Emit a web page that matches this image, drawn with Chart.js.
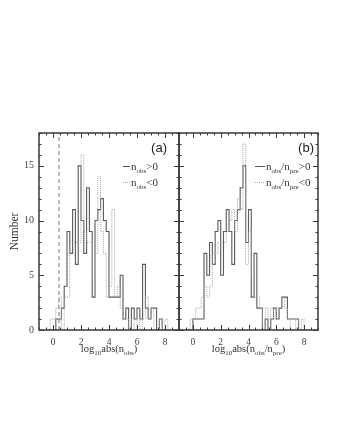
<!DOCTYPE html>
<html><head><meta charset="utf-8">
<script src="https://cdn.jsdelivr.net/npm/chart.js@4"></script>
<style>
html,body{margin:0;padding:0;background:#fff;}
#wrap{position:relative;width:340px;height:440px;}
canvas{position:absolute;left:0;top:0;}
</style>
</head><body>
<div id="wrap"><canvas id="ca" width="340" height="440"></canvas><canvas id="cb" width="340" height="440"></canvas></div>
<script>
// ---- data ----
const binStart = -0.4;   // left edge of first bin
const binWidth = 0.2;
const xTickValues = [0, 2, 4, 6, 8];
const yTickValues = [0, 5, 10, 15];
const thresholdA = 0.43; // dashed vertical line in panel (a)

// panel (a): n_obs > 0 (solid), n_obs < 0 (dotted)
const countsAPos = [0,0,0,1,1,2,4,9,7,11,6,15,10,7,13,9,3,10,11,12,10,9,3,3,3,3,5,1,2,0,2,1,2,1,6,2,1,2,2,0,1,0,0,0];
const countsANeg = [0,1,1,2,3,0,3,3,8,8,8,8,16,9,8,8,5,7,14,9,7,3,4,11,3,4,2,1,1,0,1,0,2,0,1,3,1,2,0,0,1,0,1,0];
// panel (b): n_obs/n_pre > 0 (solid), < 0 (dotted)
const countsBPos = [0,0,1,1,1,1,7,5,8,6,9,10,5,9,11,9,6,10,11,13,15,8,11,3,7,2,2,0,1,0,1,2,1,2,3,3,1,1,1,1,0,0,0,0];
const countsBNeg = [0,1,1,2,2,3,4,3,4,7,7,8,8,8,9,10,11,9,12,11,17,6,9,5,3,3,2,0,2,0,2,1,2,2,3,2,1,0,0,1,0,1,0,0];

const xMin = -1, xMax = 9, yMin = 0, yMax = 18;
const SERIF = '"Liberation Serif", "DejaVu Serif", serif';
const SANS = '"Liberation Sans", Arial, sans-serif';

function histPoints(counts){
  const pts = [{x: binStart, y: 0}];
  counts.forEach((c, i) => {
    const l = binStart + i * binWidth, r = l + binWidth;
    pts.push({x: l, y: c}, {x: r, y: c});
  });
  pts.push({x: binStart + counts.length * binWidth, y: 0});
  return pts;
}

function richWidth(ctx, parts, main, sub){
  let w = 0;
  for (const [t, s] of parts){ ctx.font = (s ? sub : main) + 'px ' + SERIF; w += ctx.measureText(t).width; }
  return w;
}
function drawRich(ctx, parts, x, y, main, sub, color){
  ctx.fillStyle = color; ctx.textBaseline = 'alphabetic'; ctx.textAlign = 'left';
  let cx = x;
  for (const [t, s] of parts){
    ctx.font = (s ? sub : main) + 'px ' + SERIF;
    ctx.fillText(t, cx, s ? y + main * 0.28 : y);
    cx += ctx.measureText(t).width;
  }
}

const framePlugin = {
  id: 'frame',
  afterDatasetsDraw(chart){
    const {ctx, chartArea: a, scales: {x, y}} = chart;
    ctx.save();
    ctx.strokeStyle = '#3a3a3a'; ctx.lineWidth = 1;
    ctx.beginPath();
    for (let v = Math.ceil(x.min * 2) / 2; v <= x.max + 1e-9; v += 0.5){
      const px = Math.round(x.getPixelForValue(v)) + 0.5;
      const L = (Math.abs(v % 2) < 1e-9) ? 5 : 2.5;
      ctx.moveTo(px, a.bottom); ctx.lineTo(px, a.bottom - L);
      ctx.moveTo(px, a.top); ctx.lineTo(px, a.top + L);
    }
    for (let v = y.min; v <= y.max; v += 1){
      const py = Math.round(y.getPixelForValue(v)) + 0.5;
      const L = (v % 5 === 0) ? 5 : 2.5;
      ctx.moveTo(a.left, py); ctx.lineTo(a.left + L, py);
      ctx.moveTo(a.right, py); ctx.lineTo(a.right - L, py);
    }
    ctx.stroke();
    ctx.lineWidth = 1.5;
    ctx.strokeRect(a.left, a.top, a.right - a.left, a.bottom - a.top);
    ctx.restore();
  }
};

const textPlugin = {
  id: 'texts',
  afterDraw(chart, args, o){
    const {ctx, chartArea: a} = chart;
    ctx.save();
    // panel label
    ctx.font = '13px ' + SANS; ctx.fillStyle = '#222'; ctx.textAlign = 'right'; ctx.textBaseline = 'alphabetic';
    ctx.fillText(o.panel, a.right - o.panelInset, a.top + 19);
    // legend
    o.legend.forEach((e, i) => {
      const yy = a.top + 33 + i * 16;
      ctx.beginPath();
      ctx.strokeStyle = e.dotted ? '#aaaaaa' : '#555555';
      ctx.lineWidth = 1;
      ctx.setLineDash(e.dotted ? [1, 1] : []);
      ctx.moveTo(a.right - o.lineStart, yy + 0.5); ctx.lineTo(a.right - o.lineEnd, yy + 0.5);
      ctx.stroke();
      ctx.setLineDash([]);
      drawRich(ctx, e.parts, a.right - o.lineEnd + 1, yy + 3.5, 11, 7, '#333');
    });
    // x title
    const w = richWidth(ctx, o.xTitle, 10.5, 7);
    drawRich(ctx, o.xTitle, (a.left + a.right) / 2 - w / 2, a.bottom + 22, 10.5, 7, '#333');
    // y title
    if (o.yTitle){
      ctx.translate(15, (a.top + a.bottom) / 2);
      ctx.rotate(-Math.PI / 2);
      ctx.font = '11.5px ' + SERIF; ctx.fillStyle = '#333'; ctx.textAlign = 'center'; ctx.textBaseline = 'middle';
      ctx.fillText(o.yTitle, 0, 0);
    }
    ctx.restore();
  }
};

function makeChart(id, pos, neg, opts){
  const datasets = [
    {data: histPoints(neg), borderColor: '#a8a8a8', borderWidth: 1, borderDash: [1, 1], pointRadius: 0, tension: 0, fill: false},
    {data: histPoints(pos), borderColor: '#5a5a5a', borderWidth: 1.1, pointRadius: 0, tension: 0, fill: false}
  ];
  if (opts.threshold !== undefined){
    datasets.push({data: [{x: opts.threshold, y: yMin}, {x: opts.threshold, y: yMax}], borderColor: '#777', borderWidth: 1, borderDash: [4, 3], pointRadius: 0, fill: false});
  }
  return new Chart(document.getElementById(id), {
    type: 'line',
    data: {datasets},
    options: {
      responsive: false, animation: false, devicePixelRatio: 1,
      layout: {padding: opts.padding},
      plugins: {legend: {display: false}, tooltip: {enabled: false}, texts: opts.texts},
      scales: {
        x: {
          type: 'linear', min: xMin, max: xMax,
          afterBuildTicks: s => { s.ticks = xTickValues.map(v => ({value: v})); },
          afterFit: s => { s.height = 110; },
          grid: {display: false, drawTicks: false},
          border: {display: false},
          ticks: {padding: 7, color: '#444', font: {family: SERIF, size: 9.5}, maxRotation: 0, autoSkip: false, callback: v => String(v)}
        },
        y: {
          type: 'linear', min: yMin, max: yMax, display: opts.showY,
          afterBuildTicks: s => { s.ticks = yTickValues.map(v => ({value: v})); },
          afterFit: s => { s.width = opts.showY ? 39 : 0; },
          grid: {display: false, drawTicks: false},
          border: {display: false},
          ticks: {padding: 5, color: '#444', font: {family: SERIF, size: 10}, autoSkip: false, callback: v => String(v)}
        }
      }
    },
    plugins: [framePlugin, textPlugin]
  });
}

makeChart('ca', countsAPos, countsANeg, {
  padding: {left: 0, right: 161, top: 133, bottom: 0},
  showY: true, threshold: thresholdA,
  texts: {
    panel: '(a)', panelInset: 12, lineStart: 56, lineEnd: 49,
    legend: [
      {dotted: false, parts: [['n', 0], ['obs', 1], ['>0', 0]]},
      {dotted: true, parts: [['n', 0], ['obs', 1], ['<0', 0]]}
    ],
    xTitle: [['log', 0], ['10', 1], ['abs(n', 0], ['obs', 1], [')', 0]],
    yTitle: 'Number'
  }
});
makeChart('cb', countsBPos, countsBNeg, {
  padding: {left: 179, right: 22, top: 133, bottom: 0},
  showY: false,
  texts: {
    panel: '(b)', panelInset: 4, lineStart: 63, lineEnd: 53,
    legend: [
      {dotted: false, parts: [['n', 0], ['obs', 1], ['/n', 0], ['pre', 1], ['>0', 0]]},
      {dotted: true, parts: [['n', 0], ['obs', 1], ['/n', 0], ['pre', 1], ['<0', 0]]}
    ],
    xTitle: [['log', 0], ['10', 1], ['abs(n', 0], ['obs', 1], ['/n', 0], ['pre', 1], [')', 0]],
    yTitle: null
  }
});
</script>
</body></html>
